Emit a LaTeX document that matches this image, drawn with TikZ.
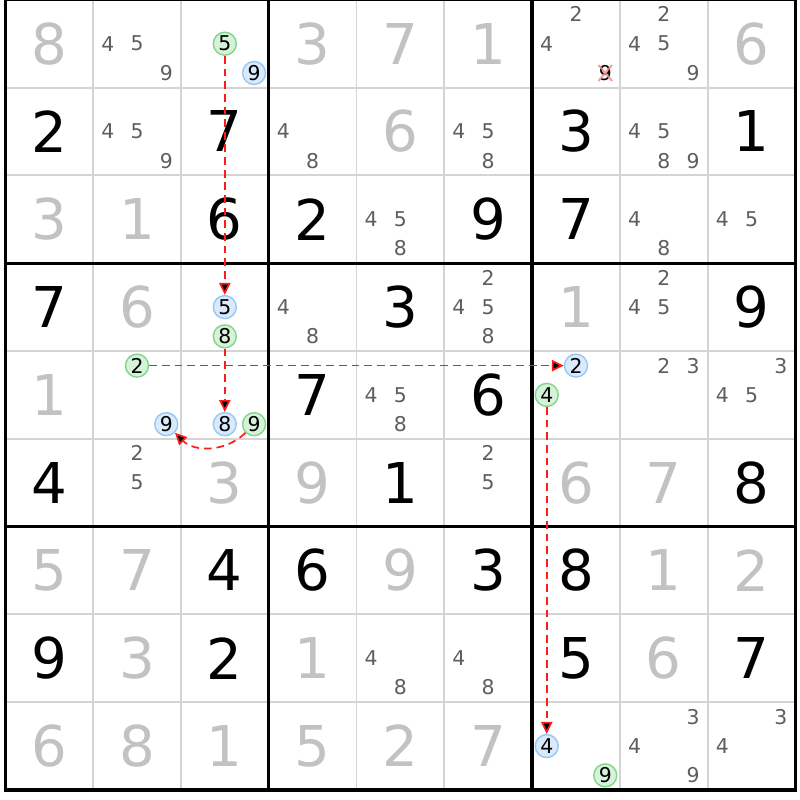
\documentclass[tikz,border=0pt]{standalone}
\usepackage{fontspec}
\setmainfont{DejaVu Sans}
\usepackage{tikz}
\usetikzlibrary{arrows.meta}
\definecolor{sdkgray}{HTML}{C2C2C2}
\definecolor{sdkcand}{HTML}{5E5E5E}
\definecolor{sdkline}{HTML}{D4D4D4}
\definecolor{sdkgreen}{HTML}{80D68C}
\definecolor{sdkgreenfill}{HTML}{D6F2D8}
\definecolor{sdkblue}{HTML}{96C8F5}
\definecolor{sdkbluefill}{HTML}{D8EAFB}
\definecolor{sdkred}{HTML}{FF1A1A}
\definecolor{sdkpink}{HTML}{F28C8C}

\begin{document}
\begin{tikzpicture}[x=2.195cm,y=-2.195cm]
            \tikzset{
                sdk given/.style={inner sep=0,font=\fontsize{40}{40}\selectfont},
                sdk solved/.style={sdk given,text=sdkgray},
                sdk cand/.style={inner sep=0,text=sdkcand,font=\fontsize{14.5}{14.5}\selectfont},
                sdk mark/.style={circle,draw,line width=1pt,minimum size=0.575cm,inner sep=0,font=\fontsize{14.5}{14.5}\selectfont},
                sdk on/.style={sdk mark,draw=sdkgreen,fill=sdkgreenfill},
                sdk off/.style={sdk mark,draw=sdkblue,fill=sdkbluefill},
                sdk thin/.style={draw=sdkline,line width=1.4pt},
                sdk thick/.style={draw=black,line width=2.4pt,line cap=rect},
                sdk strike/.style={draw=sdkpink,line width=1.5pt,opacity=0.8},
                sdk link/.style={draw=sdkred,line width=1.2pt,dash pattern=on 5.5pt off 3.5pt,-{Triangle[length=8.5pt,width=8pt]}}
            }
            \path[use as bounding box,fill=white] (-0.0604,0.0023) rectangle (9.0513,9.1139);
            % grid
            \foreach \i in {1,2,4,5,7,8} {
                \draw[sdk thin] (\i,0) -- (\i,9);
                \draw[sdk thin] (0,\i) -- (9,\i);
            }
            \foreach \i in {3,6} {
                \draw[sdk thick] (\i,0) -- (\i,9);
                \draw[sdk thick] (0,\i) -- (9,\i);
            }
            \draw[sdk thick] (0,0) rectangle (9,9);
            % givens and solved cells
            \foreach \row/\col/\dig in {1/0/2, 1/2/7, 1/6/3, 1/8/1, 2/2/6, 2/3/2, 2/5/9, 2/6/7,
                    3/0/7, 3/4/3, 3/8/9, 4/3/7, 4/5/6, 5/0/4, 5/4/1, 5/8/8,
                    6/2/4, 6/3/6, 6/5/3, 6/6/8, 7/0/9, 7/2/2, 7/6/5, 7/8/7}
                \node[sdk given] (c\row\col) at (\col+0.5,\row+0.5) {\dig};
            \foreach \row/\col/\dig in {0/0/8, 0/3/3, 0/4/7, 0/5/1, 0/8/6, 1/4/6, 2/0/3, 2/1/1,
                    3/1/6, 3/6/1, 4/0/1, 5/2/3, 5/3/9, 5/6/6, 5/7/7,
                    6/0/5, 6/1/7, 6/4/9, 6/7/1, 6/8/2, 7/1/3, 7/3/1, 7/7/6,
                    8/0/6, 8/1/8, 8/2/1, 8/3/5, 8/4/2, 8/5/7}
                \node[sdk solved] (c\row\col) at (\col+0.5,\row+0.5) {\dig};
            % pencil marks
            \foreach \row/\col/\ks in {0/1/{4,5,9}, 0/6/{2,4}, 0/7/{2,4,5,9}, 1/1/{4,5,9}, 1/3/{4,8},
                    1/5/{4,5,8}, 1/7/{4,5,8,9}, 2/4/{4,5,8}, 2/7/{4,8}, 2/8/{4,5},
                    3/3/{4,8}, 3/5/{2,4,5,8}, 3/7/{2,4,5}, 4/4/{4,5,8}, 4/7/{2,3}, 4/8/{3,4,5},
                    5/1/{2,5}, 5/5/{2,5}, 7/4/{4,8}, 7/5/{4,8}, 8/7/{3,4,9}, 8/8/{3,4}} {
                \foreach \k in \ks
                    \node[sdk cand] (p\row\col\k) at ({\col+(1+2*mod(\k-1,3))/6},{\row+(1+2*div(\k-1,3))/6}) {\k};
            }
            \node[sdk cand,text=black,minimum size=0.3cm] (n9x) at (6.8333, 0.8333) {9};
            \draw[sdk strike] (n9x.north west) -- (n9x.south east) (n9x.south west) -- (n9x.north east);
            % chain
            \node[sdk on]  (n5g) at (2.5000, 0.5000) {5};
            \node[sdk off] (n9a) at (2.8333, 0.8333) {9};
            \node[sdk off] (n5b) at (2.5000, 3.5000) {5};
            \node[sdk on]  (n8g) at (2.5000, 3.8333) {8};
            \node[sdk on]  (n2g) at (1.5000, 4.1667) {2};
            \node[sdk off] (n9b) at (1.8333, 4.8333) {9};
            \node[sdk off] (n8b) at (2.5000, 4.8333) {8};
            \node[sdk on]  (n9g) at (2.8333, 4.8333) {9};
            \node[sdk off] (n2b) at (6.5000, 4.1667) {2};
            \node[sdk on]  (n4g) at (6.1667, 4.5000) {4};
            \node[sdk off] (n4b) at (6.1667, 8.5000) {4};
            \node[sdk on]  (n9h) at (6.8333, 8.8333) {9};
            \path[sdk link]
                (n5g) edge (n5b)
                (n8g) edge (n8b)
                (n9g) edge[bend left=45] (n9b)
                (n2g) edge (n2b)
                (n4g) edge (n4b)
                ;
        \end{tikzpicture}
\end{document}
